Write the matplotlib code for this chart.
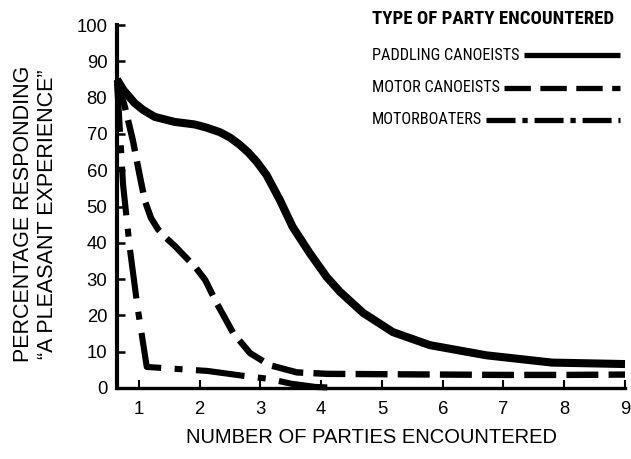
import numpy as np
import matplotlib
matplotlib.use('Agg')
import matplotlib.pyplot as plt
from matplotlib import font_manager
from matplotlib.font_manager import FontProperties
from matplotlib.lines import Line2D

# values
paddling_x = [0.64, 0.75, 0.93, 1.07, 1.26, 1.59, 1.92, 2.1, 2.33, 2.5, 2.66, 2.8, 2.94, 3.1,
              3.32, 3.53, 3.81, 4.09, 4.31, 4.69, 5.18, 5.79, 6.72, 7.8, 9.0]
paddling_y = [85, 82, 78.5, 76.6, 74.7, 73.3, 72.6, 71.8, 70.5, 69.0, 67.0, 64.9, 62.3, 58.7,
              51.8, 44.4, 37.2, 30.6, 26.5, 20.7, 15.4, 11.8, 9.0, 7.0, 6.6]

motor_canoe_x = [0.64, 0.77, 0.9, 1.02, 1.1, 1.2, 1.32, 1.45, 1.6, 1.76, 1.92, 2.09, 2.28,
                 2.55, 2.83, 3.15, 3.6, 4.1, 5, 6, 7, 8, 9]
motor_canoe_y = [85, 77.4, 68.3, 58, 51.5, 46.8, 43.6, 41.3, 39, 36.2, 33.5, 29.8, 23.4,
                 15.2, 9.6, 6.3, 4.3, 3.9, 3.8, 3.7, 3.6, 3.6, 3.7]

motorboat_x = [0.64, 0.67, 0.74, 0.85, 0.98, 1.13, 2.13, 2.7, 3.15, 3.5, 3.9, 4.3]
motorboat_y = [84, 76, 56, 38.6, 22, 5.8, 4.7, 3.4, 2.5, 1.2, 0.3, 0]

series_names = ['PADDLING CANOEISTS', 'MOTOR CANOEISTS', 'MOTORBOATERS']
x_ticks = [1, 2, 3, 4, 5, 6, 7, 8, 9]
y_ticks = [0, 10, 20, 30, 40, 50, 60, 70, 80, 90, 100]


def find_narrow(bold):
    # look for any condensed sans face; fall back to Liberation Sans
    prefer = ['Liberation Sans Narrow', 'Roboto Condensed', 'Noto Sans', 'DejaVu Sans',
              'Open Sans', 'Liberation Sans']
    found = []
    for f in font_manager.fontManager.ttflist:
        st = str(f.stretch).lower()
        if 'condensed' in st or 'Narrow' in f.name or 'Condensed' in f.name \
                or 'condensed' in f.fname.lower():
            if 'extra' in st or 'ultra' in st or 'extra' in f.fname.lower():
                continue
            if 'italic' in f.style or 'oblique' in f.style:
                continue
            w = f.weight if isinstance(f.weight, int) else (700 if 'bold' in str(f.weight) else 400)
            if (w >= 600) != bold:
                continue
            rank = prefer.index(f.name) if f.name in prefer else len(prefer)
            found.append((rank, abs(w - (700 if bold else 400)), f.fname))
    if found:
        found.sort()
        return FontProperties(fname=found[0][2])
    return FontProperties(family='Liberation Sans', weight='bold' if bold else 'normal')


plt.rcParams['font.family'] = ['Liberation Sans', 'DejaVu Sans']

W, H = 631, 459
fig = plt.figure(figsize=(W / 100, H / 100), dpi=100)
ax = fig.add_axes([117 / W, 1 - 388 / H, (625 - 117) / W, (388 - 25) / H])

styles = [
    dict(color='black', lw=5.8, linestyle='-', solid_capstyle='butt', solid_joinstyle='round'),
    dict(color='black', lw=4.6, linestyle=(0, (5.0, 1.6)), dash_capstyle='butt',
         dash_joinstyle='round'),
    dict(color='black', lw=4.4, linestyle=(0, (8.0, 2.2, 1.3, 2.2)), dash_capstyle='butt',
         dash_joinstyle='round'),
]
ax.plot(paddling_x, paddling_y, clip_on=False, **styles[0])
ax.plot(motor_canoe_x, motor_canoe_y, clip_on=False, **styles[1])
ax.plot(motorboat_x, motorboat_y, clip_on=False, **styles[2])

ax.set_xlim(0.64, 9.0)
ax.set_ylim(0, 100)
ax.set_xticks(x_ticks)
ax.set_yticks(y_ticks)
ax.spines['top'].set_visible(False)
ax.spines['right'].set_visible(False)
ax.spines['left'].set_linewidth(3.0)
ax.spines['bottom'].set_linewidth(2.4)
ax.tick_params(axis='y', direction='in', length=6, width=1.8, pad=7, labelsize=13.3)
ax.tick_params(axis='x', direction='in', length=6, width=1.5, pad=9, labelsize=13.3)

fig.text(0.588, 0.046, 'NUMBER OF PARTIES ENCOUNTERED', ha='center', va='center', fontsize=14.5)
fig.text(0.056, 0.534, 'PERCENTAGE RESPONDING\n\u201cA PLEASANT EXPERIENCE\u201d', rotation=90,
         ha='center', va='center', fontsize=15.5, linespacing=1.15, multialignment='center')

# legend drawn by hand: text on the left, sample line running to the right edge
fp_bold = find_narrow(True)
fp_reg = find_narrow(False)
fig.canvas.draw()
renderer = fig.canvas.get_renderer()


def fitted_text(x, y, s, fp, width_px, max_size):
    fp = fp.copy()
    fp.set_size(12)
    t = fig.text(x, y, s, fontproperties=fp, ha='left', va='center')
    w = t.get_window_extent(renderer).width
    fp.set_size(min(max_size, 12 * width_px / w))
    t.set_fontproperties(fp)
    return t


fitted_text(372 / W, 1 - 19 / H, 'TYPE OF PARTY ENCOUNTERED', fp_bold, 248, 13.5)
legend_styles = [
    dict(color='black', lw=3.8, linestyle='-', solid_capstyle='butt'),
    dict(color='black', lw=3.8, linestyle=(0, (5.0, 1.8)), dash_capstyle='butt'),
    dict(color='black', lw=3.8, linestyle=(0, (5.5, 1.3, 1.0, 1.3)), dash_capstyle='butt'),
]
t0 = fitted_text(372 / W, 1 - 55 / H, series_names[0], fp_reg, 147, 12)
entry_fp = t0.get_fontproperties()
texts = [t0]
for name, yp in zip(series_names[1:], [88, 120]):
    texts.append(fig.text(372 / W, 1 - yp / H, name, fontproperties=entry_fp,
                          ha='left', va='center'))
for t, st, yp in zip(texts, legend_styles, [55, 88, 120]):
    bb = t.get_window_extent(renderer)
    x0 = (bb.x1 + 4) / W
    fig.add_artist(Line2D([x0, 620 / W], [1 - yp / H, 1 - yp / H], **st))

fig.savefig('out.png', dpi=100)
